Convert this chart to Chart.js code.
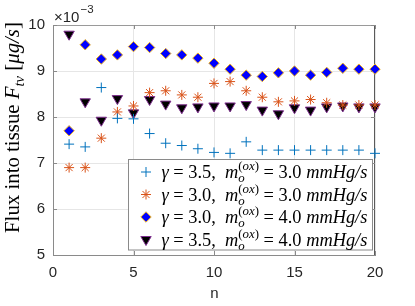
<!DOCTYPE html>
<html><head><meta charset="utf-8">
<script src="https://cdn.jsdelivr.net/npm/chart.js@4/dist/chart.umd.min.js"></script>
<style>html,body{margin:0;padding:0;background:#fff}#wrap{width:415px;height:306px;position:relative}</style>
</head><body><div id="wrap"><canvas id="c" width="415" height="306"></canvas></div>
<script>
const nValues = [1,2,3,4,5,6,7,8,9,10,11,12,13,14,15,16,17,18,19,20];
const fluxG35M30 = [7.41,7.35,8.64,7.97,7.96,7.64,7.43,7.38,7.31,7.23,7.21,7.46,7.28,7.28,7.28,7.28,7.28,7.28,7.28,7.21];
const fluxG30M30 = [6.90,6.90,7.54,8.11,8.24,8.53,8.57,8.48,8.43,8.73,8.77,8.57,8.43,8.33,8.35,8.38,8.31,8.26,8.26,8.26];
const fluxG30M40 = [7.70,9.57,9.26,9.35,9.53,9.51,9.38,9.35,9.28,9.17,9.04,8.91,8.88,8.96,9.00,8.91,8.97,9.06,9.04,9.04];
const fluxG35M40 = [9.80,8.33,7.93,8.40,8.09,8.38,8.28,8.20,8.22,8.24,8.24,8.27,8.15,8.07,8.20,8.15,8.22,8.24,8.22,8.22];
const xTickValues = [0,5,10,15,20];
const yTickValues = [5,6,7,8,9,10];
const gammaLabels = ['3.5','3.0','3.0','3.5'];
const moxLabels = ['3.0','3.0','4.0','4.0'];
const xTitle = 'n';
const scaleExponent = '−3';

const SANS = "'Liberation Sans', Arial, sans-serif";
const SERIF = "'Liberation Serif', 'DejaVu Serif', serif";
const AX = '#262626';
const AXLINE = '#8a8a8a';

const styles = [
  {pointStyle:'cross', radius:5, rotation:0, fill:'rgba(0,0,0,0)', stroke:'#0072BD', bw:1},
  {pointStyle:'star', radius:5, rotation:0, fill:'rgba(0,0,0,0)', stroke:'#D95319', bw:1},
  {pointStyle:'rectRot', radius:5.2, rotation:0, fill:'#0000FF', stroke:'#EDB120', bw:1},
  {pointStyle:'triangle', radius:6, rotation:180, fill:'#000000', stroke:'#7E2F8E', bw:1}
];
const seriesValues = [fluxG35M30, fluxG30M30, fluxG30M40, fluxG35M40];

function pts(vals){ return nValues.map((n,i)=>({x:n,y:vals[i]})); }

function setF(ctx, size, it){ ctx.font = (it?'italic ':'') + size + 'px ' + SERIF; }
function drawRun(ctx, run, x, y, size, draw){
  let w=0;
  for(const s of run){ setF(ctx,size,s.it); if(draw) ctx.fillText(s.t, x+w, y); w+=ctx.measureText(s.t).width; }
  return w;
}
function drawRich(ctx, segs, x, y, size, draw){
  let w=0;
  for(const seg of segs){
    if(seg.sub || seg.sup){
      const ss = size*0.7;
      let a=0,b=0;
      if(seg.sub) a = drawRun(ctx, seg.sub, x+w, y+size*0.22, ss, draw);
      if(seg.sup) b = drawRun(ctx, seg.sup, x+w, y-size*0.42, ss, draw);
      w += Math.max(a,b);
    } else {
      w += drawRun(ctx, [seg], x+w, y, size, draw);
    }
  }
  return w;
}
function legendSegs(g, m){
  return [{t:'γ',it:true},{t:' = '+g+',  '},{t:'m',it:true},
    {sub:[{t:'o',it:true}], sup:[{t:'('},{t:'ox',it:true},{t:')'}]},
    {t:' = '+m+' '},{t:'mmHg/s',it:true}];
}

function drawMarker(ctx, st, x, y){
  ctx.save();
  ctx.lineWidth = st.bw; ctx.strokeStyle = st.stroke; ctx.fillStyle = st.fill;
  const r = st.radius;
  ctx.beginPath();
  if(st.pointStyle==='cross'){
    ctx.moveTo(x-r,y);ctx.lineTo(x+r,y);ctx.moveTo(x,y-r);ctx.lineTo(x,y+r);ctx.stroke();
  } else if(st.pointStyle==='star'){
    ctx.moveTo(x-r,y);ctx.lineTo(x+r,y);ctx.moveTo(x,y-r);ctx.lineTo(x,y+r);
    const d=r*Math.SQRT1_2;
    ctx.moveTo(x-d,y-d);ctx.lineTo(x+d,y+d);ctx.moveTo(x-d,y+d);ctx.lineTo(x+d,y-d);ctx.stroke();
  } else if(st.pointStyle==='rectRot'){
    ctx.moveTo(x-r,y);ctx.lineTo(x,y-r);ctx.lineTo(x+r,y);ctx.lineTo(x,y+r);ctx.closePath();ctx.fill();ctx.stroke();
  } else {
    const h=Math.sqrt(3)/2*r;
    ctx.moveTo(x,y+r);ctx.lineTo(x-h,y-r/2);ctx.lineTo(x+h,y-r/2);ctx.closePath();ctx.fill();ctx.stroke();
  }
  ctx.restore();
}

const framePlugin = {
  id:'frame',
  beforeDatasetsDraw(chart){
    const {ctx, chartArea:a, scales} = chart;
    ctx.save();
    ctx.lineWidth = 1;
    ctx.strokeStyle = '#9a9a9a';
    ctx.beginPath();
    ctx.moveTo(a.left, a.top+0.5); ctx.lineTo(a.right, a.top+0.5);
    ctx.stroke();
    ctx.strokeStyle = '#5a5a5a';
    ctx.beginPath();
    ctx.moveTo(a.right-0.5, a.top); ctx.lineTo(a.right-0.5, a.bottom);
    ctx.stroke();
    ctx.strokeStyle = AXLINE;
    ctx.beginPath();
    const tl = 4;
    for(const v of xTickValues){
      const px = Math.round(scales.x.getPixelForValue(v))+0.5;
      ctx.moveTo(px, a.bottom); ctx.lineTo(px, a.bottom-tl);
      ctx.moveTo(px, a.top); ctx.lineTo(px, a.top+tl);
    }
    for(const v of yTickValues){
      const py = Math.round(scales.y.getPixelForValue(v))+0.5;
      ctx.moveTo(a.left, py); ctx.lineTo(a.left+tl, py);
      ctx.moveTo(a.right, py); ctx.lineTo(a.right-tl, py);
    }
    ctx.stroke();
    ctx.restore();
  },
  afterDatasetsDraw(chart){
    const {ctx} = chart;
    ctx.save();
    const bx=128.5, by=159.5, bw=244, bh=90.5;
    ctx.fillStyle='#fff'; ctx.fillRect(bx,by,bw,bh);
    ctx.strokeStyle='#8a8a8a'; ctx.lineWidth=1; ctx.strokeRect(bx,by,bw,bh);
    ctx.fillStyle='#000'; ctx.textBaseline='alphabetic'; ctx.textAlign='left';
    for(let i=0;i<4;i++){
      const cy = 172 + i*22.5;
      drawMarker(ctx, styles[i], 146, cy);
      const segs = legendSegs(gammaLabels[i], moxLabels[i]);
      const w10 = drawRich(ctx, segs, 0, 0, 10, false);
      const size = 10*206/w10;
      drawRich(ctx, segs, 161.5, cy+size*0.33, size, true);
    }
    const ysegs = [{t:'Flux into tissue '},{t:'F',it:true},{sub:[{t:'tv',it:true}]},{t:' ['},{t:'μg/s',it:true},{t:']'}];
    const yw10 = drawRich(ctx, ysegs, 0, 0, 10, false);
    const ysize = 10*211/yw10;
    ctx.save();
    ctx.translate(12.5, 127.5); ctx.rotate(-Math.PI/2);
    ctx.fillStyle='#000';
    drawRich(ctx, ysegs, -211/2, ysize*0.33, ysize, true);
    ctx.restore();
    ctx.fillStyle=AX; ctx.font='15px '+SANS; ctx.textAlign='center'; ctx.textBaseline='middle';
    ctx.fillText(xTitle, 214.5, 294);
    ctx.textAlign='left'; ctx.textBaseline='alphabetic';
    ctx.font='15px '+SANS;
    ctx.fillText('×10', 54, 22);
    const w = ctx.measureText('×10').width;
    ctx.font='11.5px '+SANS;
    ctx.fillText(scaleExponent, 54+w+1, 12.5);
    ctx.restore();
  }
};

new Chart(document.getElementById('c'), {
  type:'scatter',
  data:{ datasets: seriesValues.map((vals,i)=>({
    data: pts(vals),
    pointStyle: styles[i].pointStyle,
    pointRadius: styles[i].radius,
    pointRotation: styles[i].rotation,
    pointBackgroundColor: styles[i].fill,
    pointBorderColor: styles[i].stroke,
    pointBorderWidth: styles[i].bw,
    pointHoverRadius: styles[i].radius,
    showLine:false,
    clip:false
  }))},
  options:{
    responsive:false, animation:false, devicePixelRatio:1,
    events:[],
    layout:{padding:{left:0,right:40,top:25,bottom:0}},
    plugins:{legend:{display:false}, tooltip:{enabled:false}},
    scales:{
      x:{type:'linear', min:0, max:20,
        afterBuildTicks:s=>{ s.ticks = xTickValues.map(v=>({value:v})); },
        afterFit:s=>{ s.height = 51; },
        ticks:{font:{family:SANS,size:15}, color:AX, padding:9, maxRotation:0},
        grid:{color:'#e6e6e6', drawTicks:false},
        border:{color:AXLINE, width:1}
      },
      y:{type:'linear', min:5, max:10,
        afterBuildTicks:s=>{ s.ticks = yTickValues.map(v=>({value:v})); },
        afterFit:s=>{ s.width = 53; },
        ticks:{font:{family:SANS,size:15}, color:AX, padding:8},
        grid:{color:'#e6e6e6', drawTicks:false},
        border:{color:AXLINE, width:1}
      }
    }
  },
  plugins:[framePlugin]
});
</script></body></html>
